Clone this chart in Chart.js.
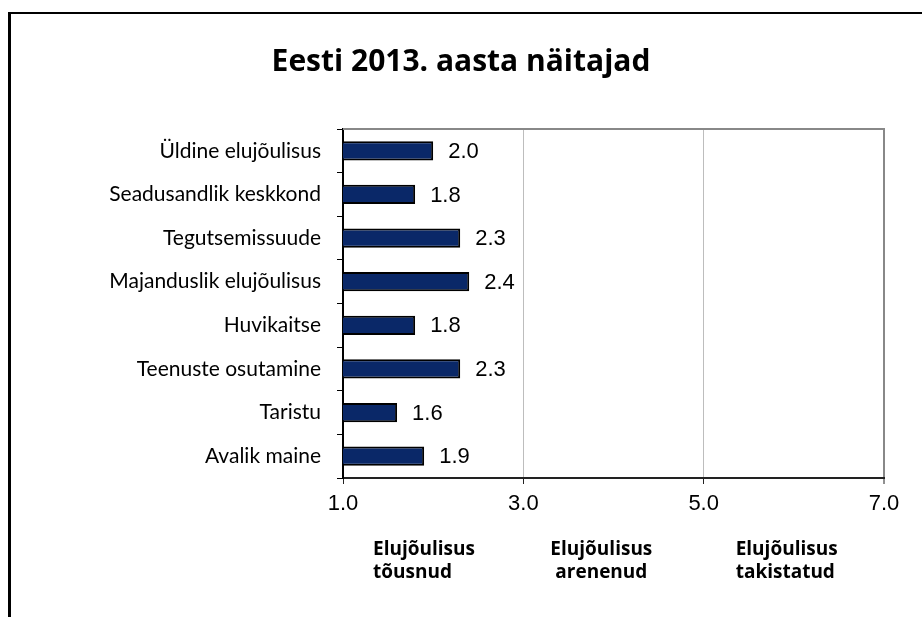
<!DOCTYPE html>
<html>
<head>
<meta charset="utf-8">
<script src="https://cdn.jsdelivr.net/npm/chart.js@4/dist/chart.umd.min.js"></script>
<style>
  html, body { margin: 0; padding: 0; background: #fff; overflow: hidden; }
  #wrap { position: relative; width: 922px; height: 617px; }
  #frame {
    position: absolute; left: 8px; top: 12px; width: 930px; height: 640px;
    border-left: 3px solid #000; border-top: 2px solid #000; box-sizing: border-box;
  }
  canvas { position: absolute; left: 0; top: 0; }
</style>
</head>
<body>
<div id="wrap">
  <div id="frame"></div>
  <canvas id="chart" width="922" height="617"></canvas>
</div>
<script>
// indicators and their scores (scale 1..7)
const categories = [
  'Üldine elujõulisus',
  'Seadusandlik keskkond',
  'Tegutsemissuude',
  'Majanduslik elujõulisus',
  'Huvikaitse',
  'Teenuste osutamine',
  'Taristu',
  'Avalik maine'
];
const scores = [2.0, 1.8, 2.3, 2.4, 1.8, 2.3, 1.6, 1.9];
const xTicks = [1, 3, 5, 7];
const bandLabels = [
  ['Elujõulisus', 'tõusnud'],
  ['Elujõulisus', 'arenenud'],
  ['Elujõulisus', 'takistatud']
];

const humanist = 'Lato, "Open Sans", sans-serif';
const wideBold = '"Open Sans", Lato, sans-serif';
const arial = '"Liberation Sans", Arial, sans-serif';

// value labels to the right of each bar
const valueLabels = {
  id: 'valueLabels',
  afterDatasetsDraw(chart) {
    const ctx = chart.ctx;
    const meta = chart.getDatasetMeta(0);
    ctx.save();
    ctx.font = '22px ' + arial;
    ctx.fillStyle = '#000';
    ctx.textAlign = 'left';
    ctx.textBaseline = 'middle';
    meta.data.forEach((bar, i) => {
      ctx.fillText(scores[i].toFixed(1), bar.x + 15, bar.y + 1);
    });
    ctx.restore();
  }
};

// top border of the plot + band captions under the axis
const extras = {
  id: 'extras',
  beforeDatasetsDraw(chart) {
    const a = chart.chartArea;
    const ctx = chart.ctx;
    ctx.save();
    ctx.strokeStyle = '#888';
    ctx.lineWidth = 2;
    ctx.beginPath();
    ctx.moveTo(a.left, a.top);
    ctx.lineTo(a.right + 1, a.top);
    ctx.stroke();
    ctx.restore();
  },
  afterDraw(chart) {
    const ctx = chart.ctx;
    const xs = chart.scales.x;
    ctx.save();
    ctx.font = 'bold 19px ' + wideBold;
    ctx.fillStyle = '#000';
    ctx.textBaseline = 'alphabetic';
    const spots = [
      { x: xs.getPixelForValue(1) + 30, align: 'left' },
      { x: xs.getPixelForValue(3) + 78, align: 'center' },
      { x: xs.getPixelForValue(5) + 32, align: 'left' }
    ];
    bandLabels.forEach((lines, i) => {
      ctx.textAlign = spots[i].align;
      lines.forEach((t, j) => ctx.fillText(t, spots[i].x, 555 + j * 23));
    });
    ctx.restore();
  }
};

new Chart(document.getElementById('chart'), {
  type: 'bar',
  data: {
    labels: categories,
    datasets: [{
      data: scores,
      backgroundColor: '#0a2868',
      borderColor: '#000',
      borderWidth: 2,
      borderSkipped: false,
      barPercentage: 0.44,
      categoryPercentage: 1
    }]
  },
  options: {
    indexAxis: 'y',
    responsive: false,
    animation: false,
    layout: { padding: { left: 38, right: 38, top: 0, bottom: 0 } },
    plugins: {
      legend: { display: false },
      tooltip: { enabled: false },
      title: {
        display: true,
        text: 'Eesti 2013. aasta näitajad',
        color: '#000',
        font: { family: wideBold, size: 30, weight: 'bold', lineHeight: 1.2 },
        padding: { top: 44, bottom: 49 }
      }
    },
    scales: {
      x: {
        min: 1,
        max: 7,
        afterBuildTicks: (s) => { s.ticks = xTicks.map(v => ({ value: v })); },
        afterFit: (s) => { s.height = 139; },
        border: { display: true, color: '#222', width: 2 },
        grid: {
          drawOnChartArea: true,
          color: (c) => c.tick && c.tick.value === 7 ? '#888' : (c.tick && c.tick.value === 1 ? 'rgba(0,0,0,0)' : '#bdbdbd'),
          lineWidth: (c) => c.tick && c.tick.value === 7 ? 2 : 1,
          tickColor: '#222',
          tickLength: 6,
          tickWidth: 1
        },
        ticks: {
          color: '#000',
          padding: 7,
          font: { family: arial, size: 22 },
          callback: (v) => Number(v).toFixed(1)
        }
      },
      y: {
        afterFit: (s) => { s.width = 305; },
        border: { display: true, color: '#000', width: 2 },
        grid: {
          offset: true,
          drawOnChartArea: false,
          drawTicks: true,
          tickLength: 6,
          tickColor: '#000',
          tickWidth: 1
        },
        ticks: {
          color: '#000',
          padding: 16,
          font: { family: humanist, size: 21 }
        }
      }
    }
  },
  plugins: [valueLabels, extras]
});
</script>
</body>
</html>
